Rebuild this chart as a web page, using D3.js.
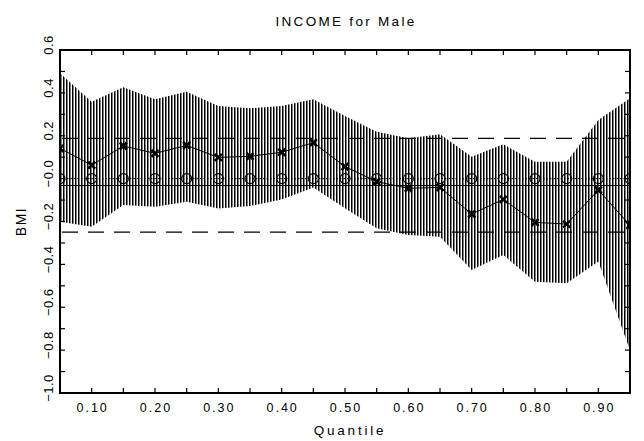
<!DOCTYPE html>
<html>
<head>
<meta charset="utf-8">
<script src="https://cdn.jsdelivr.net/npm/d3@7"></script>
<style>
  html, body { margin: 0; padding: 0; background: #fff; }
  svg { display: block; }
  text { font-family: "Liberation Sans", Arial, sans-serif; fill: #000; }
</style>
</head>
<body>
<svg id="chart" width="644" height="441"></svg>
<script>
// ---------------- data ----------------
const quantiles = [0.05, 0.10, 0.15, 0.20, 0.25, 0.30, 0.35, 0.40, 0.45, 0.50,
                   0.55, 0.60, 0.65, 0.70, 0.75, 0.80, 0.85, 0.90, 0.95];
const estimates = [0.141, 0.063, 0.152, 0.118, 0.155, 0.099, 0.104, 0.123, 0.168, 0.056,
                   -0.014, -0.045, -0.041, -0.165, -0.097, -0.204, -0.212, -0.053, -0.218];
const upperBand = [0.491, 0.359, 0.426, 0.370, 0.405, 0.339, 0.328, 0.339, 0.370, 0.292,
                   0.219, 0.188, 0.207, 0.102, 0.160, 0.079, 0.079, 0.273, 0.375];
const lowerBand = [-0.201, -0.224, -0.123, -0.131, -0.108, -0.139, -0.128, -0.097, -0.041, -0.138,
                   -0.232, -0.263, -0.271, -0.426, -0.356, -0.481, -0.488, -0.387, -0.800];
const nullValues = [0, 0, 0, 0, 0, 0, 0, 0, 0, 0, 0, 0, 0, 0, 0, 0, 0, 0, 0];
const olsEstimate = -0.032;
const olsUpper = 0.188;
const olsLower = -0.250;

const xTickValues = [0.10, 0.15, 0.20, 0.25, 0.30, 0.35, 0.40, 0.45, 0.50,
                     0.55, 0.60, 0.65, 0.70, 0.75, 0.80, 0.85, 0.90];
const xLabelValues = [0.10, 0.20, 0.30, 0.40, 0.50, 0.60, 0.70, 0.80, 0.90];
const xLabels = ["0.10", "0.20", "0.30", "0.40", "0.50", "0.60", "0.70", "0.80", "0.90"];
const yTickValues = [-0.9, -0.8, -0.7, -0.6, -0.5, -0.4, -0.3, -0.2, -0.1, 0.0, 0.1, 0.2, 0.3, 0.4, 0.5];
const yLabelValues = [-1.0, -0.8, -0.6, -0.4, -0.2, 0.0, 0.2, 0.4, 0.6];
const yLabels = ["\u22121.0", "\u22120.8", "\u22120.6", "\u22120.4", "\u22120.2", "\u22120.0", "0.2", "0.4", "0.6"];

const titleText = "INCOME for Male";
const xTitle = "Quantile";
const yTitle = "BMI";

// ---------------- layout ----------------
const L = 60, R = 630, T = 50, B = 393;
const svg = d3.select("#chart");

const x = d3.scaleLinear().domain([0.05, 0.95]).range([L, R]);
const y = d3.scaleLinear().domain([-1.0, 0.6]).range([B, T]);

const rows = quantiles.map((q, i) => ({
  q, est: estimates[i], up: upperBand[i], lo: lowerBand[i], nul: nullValues[i]
}));

const defs = svg.append("defs");
defs.append("clipPath").attr("id", "plotClip")
  .append("rect").attr("x", L).attr("y", T).attr("width", R - L).attr("height", B - T);

const pat = defs.append("pattern")
  .attr("id", "vhatch")
  .attr("patternUnits", "userSpaceOnUse")
  .attr("x", L).attr("y", 0)
  .attr("width", 3).attr("height", 10);
pat.append("rect").attr("x", 0).attr("y", 0).attr("width", 1.5).attr("height", 10).attr("fill", "#000");

const plot = svg.append("g").attr("clip-path", "url(#plotClip)");

// band
const area = d3.area()
  .x(d => x(d.q))
  .y0(d => y(d.lo))
  .y1(d => y(d.up))
  .curve(d3.curveLinear);
plot.append("path").datum(rows)
  .attr("d", area)
  .attr("fill", "url(#vhatch)");

// OLS confidence lines (dashed)
[olsUpper, olsLower].forEach(v => {
  plot.append("line")
    .attr("x1", L).attr("x2", R)
    .attr("y1", y(v)).attr("y2", y(v))
    .attr("stroke", "#000").attr("stroke-width", 1.2)
    .attr("stroke-dasharray", "16,10")
    .attr("stroke-dashoffset", -2);
});
// OLS estimate (solid)
plot.append("line")
  .attr("x1", L).attr("x2", R)
  .attr("y1", y(olsEstimate)).attr("y2", y(olsEstimate))
  .attr("stroke", "#000").attr("stroke-width", 1.2);

// null line (dotted) with circles
plot.append("path").datum(rows)
  .attr("d", d3.line().x(d => x(d.q)).y(d => y(d.nul)))
  .attr("fill", "none").attr("stroke", "#000").attr("stroke-width", 1)
  .attr("stroke-dasharray", "1.5,2");
plot.selectAll("circle.nul").data(rows).enter().append("circle")
  .attr("class", "nul")
  .attr("cx", d => x(d.q)).attr("cy", d => y(d.nul))
  .attr("r", 5)
  .attr("fill", "none").attr("stroke", "#000").attr("stroke-width", 1.1);

// estimate line with x markers
plot.append("path").datum(rows)
  .attr("d", d3.line().x(d => x(d.q)).y(d => y(d.est)))
  .attr("fill", "none").attr("stroke", "#000").attr("stroke-width", 1);
const s = 3.5;
plot.selectAll("path.mk").data(rows).enter().append("path")
  .attr("class", "mk")
  .attr("d", d => {
    const cx = x(d.q), cy = y(d.est);
    return `M${cx - s},${cy - s}L${cx + s},${cy + s}M${cx - s},${cy + s}L${cx + s},${cy - s}`;
  })
  .attr("stroke", "#000").attr("stroke-width", 2.6).attr("fill", "none");

// ---------------- frame and ticks ----------------
const tk = 5;
const ticks = svg.append("g").attr("stroke", "#000").attr("stroke-width", 1.2);
xTickValues.forEach(v => {
  ticks.append("line").attr("x1", x(v)).attr("x2", x(v)).attr("y1", B).attr("y2", B - tk);
  ticks.append("line").attr("x1", x(v)).attr("x2", x(v)).attr("y1", T).attr("y2", T + tk);
});
yTickValues.forEach(v => {
  ticks.append("line").attr("x1", L).attr("x2", L + tk).attr("y1", y(v)).attr("y2", y(v));
  ticks.append("line").attr("x1", R).attr("x2", R - tk).attr("y1", y(v)).attr("y2", y(v));
});

svg.append("rect")
  .attr("x", L).attr("y", T).attr("width", R - L).attr("height", B - T)
  .attr("fill", "none").attr("stroke", "#000").attr("stroke-width", 2);

// ---------------- labels ----------------
svg.selectAll("text.xl").data(xLabelValues).enter().append("text")
  .attr("class", "xl")
  .attr("x", d => x(d) + 1).attr("y", 411.5)
  .attr("text-anchor", "middle")
  .style("font-size", "12.5px").style("letter-spacing", "2px")
  .text((d, i) => xLabels[i]);

svg.selectAll("text.yl").data(yLabelValues).enter().append("text")
  .attr("class", "yl")
  .attr("transform", d => `translate(48,${y(d) - 5}) rotate(-90)`)
  .attr("text-anchor", "middle")
  .attr("dy", "0.36em")
  .style("font-size", "13px").style("letter-spacing", "0.5px")
  .text((d, i) => yLabels[i]);

svg.append("text")
  .attr("x", (L + R) / 2 + 1).attr("y", 26)
  .attr("text-anchor", "middle")
  .style("font-size", "13.5px").style("letter-spacing", "2.3px")
  .text(titleText);

svg.append("text")
  .attr("x", (L + R) / 2 + 5).attr("y", 435)
  .attr("text-anchor", "middle")
  .style("font-size", "13.5px").style("letter-spacing", "2.8px")
  .text(xTitle);

svg.append("text")
  .attr("transform", `translate(21,${(T + B) / 2}) rotate(-90)`)
  .attr("text-anchor", "middle")
  .attr("dy", "0.36em")
  .style("font-size", "14px").style("letter-spacing", "1.5px")
  .text(yTitle);
</script>
</body>
</html>
